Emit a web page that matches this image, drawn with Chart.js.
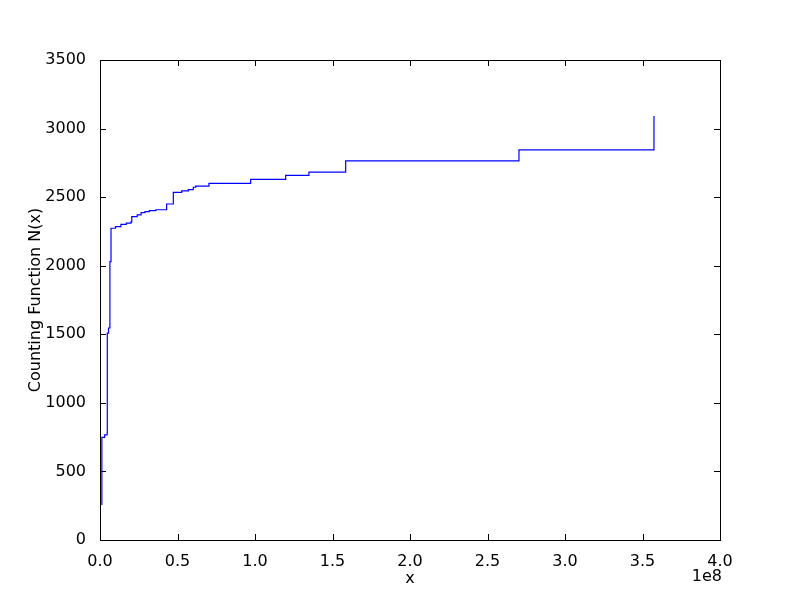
<!DOCTYPE html>
<html>
<head>
<meta charset="utf-8">
<script src="https://cdn.jsdelivr.net/npm/chart.js@4/dist/chart.umd.min.js"></script>
<style>
  html, body { margin: 0; padding: 0; background: #fff; }
  #wrap { width: 800px; height: 600px; }
</style>
</head>
<body>
<div id="wrap"><canvas id="countChart" width="800" height="600"></canvas></div>
<script>
// step points of N(x), x in raw units (axis shows them scaled by 1e8)
const xValues = [
    0.012e8, 0.012e8, 0.03e8, 0.046e8, 0.047e8, 0.055e8, 0.064e8, 0.071e8,
    0.10e8, 0.135e8, 0.17e8, 0.20e8, 0.205e8, 0.24e8, 0.265e8, 0.29e8,
    0.318e8, 0.36e8, 0.43e8, 0.43e8, 0.473e8, 0.527e8, 0.57e8, 0.602e8,
    0.617e8, 0.703e8, 0.972e8, 1.198e8, 1.348e8, 1.585e8, 2.703e8, 3.574e8, 3.574e8
];
const countValues = [
    255, 749, 766, 780, 1509, 1546, 2030, 2273,
    2285, 2302, 2310, 2320, 2358, 2370, 2387, 2395,
    2401, 2408, 2413, 2450, 2535, 2545, 2555, 2572,
    2581, 2601, 2630, 2659, 2683, 2764, 2844, 2844, 3092
];
const xTicks = [0, 0.5e8, 1e8, 1.5e8, 2e8, 2.5e8, 3e8, 3.5e8, 4e8];
const yTicks = [0, 500, 1000, 1500, 2000, 2500, 3000, 3500];

const font = { family: 'DejaVu Sans', size: 16 };

// matplotlib-like frame: box plus inward ticks, and the 1e8 offset label
const framePlugin = {
    id: 'frame',
    beforeDatasetsDraw(chart) {
        const ctx = chart.ctx;
        const a = chart.chartArea;
        const xs = chart.scales.x, ys = chart.scales.y;
        ctx.save();
        ctx.strokeStyle = '#000';
        ctx.lineWidth = 1;
        ctx.strokeRect(a.left + 0.5, a.top + 0.5, a.right - a.left, a.bottom - a.top);
        ctx.beginPath();
        xTicks.forEach(v => {
            const px = Math.round(xs.getPixelForValue(v)) + 0.5;
            ctx.moveTo(px, a.bottom); ctx.lineTo(px, a.bottom - 6);
            ctx.moveTo(px, a.top); ctx.lineTo(px, a.top + 6);
        });
        yTicks.forEach(v => {
            const py = Math.round(ys.getPixelForValue(v)) + 0.5;
            ctx.moveTo(a.left, py); ctx.lineTo(a.left + 6, py);
            ctx.moveTo(a.right, py); ctx.lineTo(a.right - 6, py);
        });
        ctx.stroke();
        ctx.fillStyle = '#000';
        ctx.font = '16px "DejaVu Sans"';
        ctx.textAlign = 'right';
        ctx.textBaseline = 'middle';
        ctx.fillText('1e8', a.right + 2, 577);
        ctx.restore();
    }
};

const ctx = document.getElementById('countChart').getContext('2d');
const chart = new Chart(ctx, {
    type: 'line',
    data: {
        datasets: [{
            data: xValues.map((x, i) => ({ x: x, y: countValues[i] })),
            borderColor: '#0000ff',
            borderWidth: 1.2,
            pointRadius: 0,
            fill: false,
            stepped: true
        }]
    },
    options: {
        responsive: false,
        animation: false,
        layout: { padding: { left: 26, top: 60, right: 80, bottom: 12 } },
        plugins: { legend: { display: false }, tooltip: { enabled: false } },
        scales: {
            x: {
                type: 'linear',
                min: 0,
                max: 4e8,
                afterFit: s => { s.height = 48; },
                afterBuildTicks: s => { s.ticks = xTicks.map(v => ({ value: v })); },
                grid: { display: false },
                border: { display: false },
                ticks: {
                    color: '#000', font: font, padding: 4,
                    maxRotation: 0,
                    callback: v => (v / 1e8).toFixed(1)
                },
                title: { display: true, text: 'x', color: '#000', font: font, padding: { top: 2, bottom: 0 } }
            },
            y: {
                min: 0,
                max: 3500,
                afterFit: s => { s.width = 74; },
                afterBuildTicks: s => { s.ticks = yTicks.map(v => ({ value: v })); },
                grid: { display: false },
                border: { display: false },
                ticks: { color: '#000', font: font, padding: 6, callback: v => String(v) },
                title: { display: true, text: 'Counting Function N(x)', color: '#000', font: font, padding: 0 }
            }
        }
    },
    plugins: [framePlugin]
});
</script>
</body>
</html>
